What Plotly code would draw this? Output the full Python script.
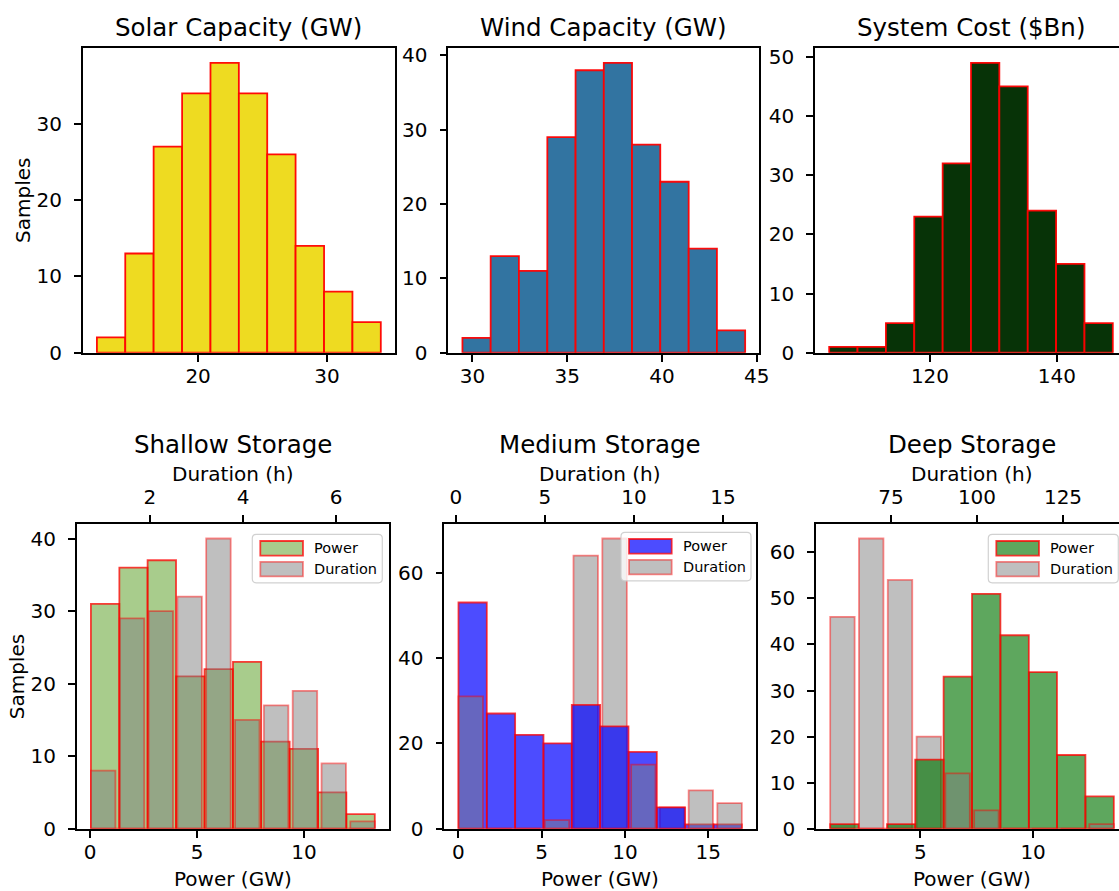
import plotly.graph_objects as go

# ---------------- data ----------------
solar_edges = [12.15, 14.35, 16.55, 18.76, 20.96, 23.16, 25.36, 27.56, 29.77, 31.97, 34.17]
solar_counts = [2, 13, 27, 34, 38, 34, 26, 14, 8, 4]
wind_edges = [29.47, 30.96, 32.45, 33.95, 35.44, 36.93, 38.42, 39.91, 41.41, 42.90, 44.39]
wind_counts = [2, 13, 11, 29, 38, 39, 28, 23, 14, 3]
cost_edges = [104.10, 108.57, 113.05, 117.52, 122.00, 126.47, 130.94, 135.42, 139.89, 144.37, 148.84]
cost_counts = [1, 1, 5, 23, 32, 49, 45, 24, 15, 5]

shallow_power_edges = [0.04, 1.37, 2.69, 4.02, 5.35, 6.68, 8.00, 9.33, 10.66, 11.98, 13.31]
shallow_power_counts = [31, 36, 37, 21, 22, 23, 12, 11, 5, 2]
shallow_duration_edges = [0.683, 1.303, 1.923, 2.542, 3.162, 3.782, 4.402, 5.022, 5.642, 6.261, 6.881]
shallow_duration_counts = [8, 29, 30, 32, 40, 15, 17, 19, 9, 1]

medium_power_edges = [0.01, 1.71, 3.41, 5.11, 6.81, 8.51, 10.21, 11.91, 13.61, 15.31, 17.01]
medium_power_counts = [53, 27, 22, 20, 29, 24, 18, 5, 1, 1]
medium_duration_edges = [0.02, 1.64, 3.25, 4.87, 6.48, 8.10, 9.72, 11.33, 12.95, 14.56, 16.18]
medium_duration_counts = [31, 0, 0, 2, 64, 68, 15, 5, 9, 6]

deep_power_edges = [1.00, 2.26, 3.52, 4.77, 6.03, 7.29, 8.55, 9.81, 11.06, 12.32, 13.58]
deep_power_counts = [1, 0, 1, 15, 33, 51, 42, 34, 16, 7]
deep_duration_edges = [56.70, 65.07, 73.44, 81.81, 90.18, 98.55, 106.92, 115.29, 123.66, 132.03, 140.40]
deep_duration_counts = [46, 63, 54, 20, 12, 4, 0, 0, 0, 1]

top_titles = ["Solar Capacity (GW)", "Wind Capacity (GW)", "System Cost ($Bn)"]
bottom_titles = ["Shallow Storage", "Medium Storage", "Deep Storage"]
legend_labels = ["Power", "Duration"]
y_label = "Samples"
power_label = "Power (GW)"
duration_label = "Duration (h)"

solar_xticks = [20, 30]
solar_yticks = [0, 10, 20, 30]
wind_xticks = [30, 35, 40, 45]
wind_yticks = [0, 10, 20, 30, 40]
cost_xticks = [120, 140]
cost_yticks = [0, 10, 20, 30, 40, 50]
shallow_xticks = [0, 5, 10]
shallow_topticks = [2, 4, 6]
shallow_yticks = [0, 10, 20, 30, 40]
medium_xticks = [0, 5, 10, 15]
medium_topticks = [0, 5, 10, 15]
medium_yticks = [0, 20, 40, 60]
deep_xticks = [5, 10]
deep_topticks = [75, 100, 125]
deep_yticks = [0, 10, 20, 30, 40, 50, 60]

# drawing order (style): which power bars are drawn above the duration bars
shallow_power_on_top = [False, False, False, False, False, False, False, False, False, False]
medium_power_on_top = [False, False, False, False, True, True, False, True, False, False]
deep_power_on_top = [True, True, True, True, False, False, False, False, False, False]

# ---------------- styles / layout ----------------
W, H = 1119, 891
OFFSET = 0.0
FONT = "DejaVu Sans"
RWIDTH = 0.85

top_fill = ["#EEDB21", "#3274A1", "#073307"]
top_edge = "rgba(255,0,0,0.95)"
power_fill = ["rgba(81,153,25,0.5)", "rgba(0,0,255,0.7)", "rgba(0,115,0,0.63)"]
power_edge = "rgba(255,0,0,0.75)"
dur_fill = "rgba(128,128,128,0.5)"
dur_edge = "rgba(255,0,0,0.45)"
EDGE_W = 1.8

# positions in window pixels (as seen in the reference)
TOP_ROW_Y = (48.3, 352.7)
BOT_ROW_Y = (524.0, 828.7)
TOP_COLS = [(82.7, 395.0), (448.3, 759.3), (815.0, 1127.0)]
BOT_COLS = [(76.7, 389.0), (444.3, 756.0), (816.0, 1128.0)]
LEGEND_BOX = [(252.3, 534.3), (621.0, 532.3), (988.3, 534.3)]  # left, top px
LEG_W, LEG_H = 130.0, 48.5


def px(x):
    return (x - OFFSET) / W


def py(y):
    return 1 - (y - OFFSET) / H


def ax_key(kind, n):
    return f"{kind}axis" if n == 1 else f"{kind}axis{n}"


def ax_ref(kind, n):
    return kind if n == 1 else f"{kind}{n}"


def centers(edges):
    return [(edges[i] + edges[i + 1]) / 2 for i in range(len(edges) - 1)]


def widths(edges, frac=1.0):
    return [(edges[i + 1] - edges[i]) * frac for i in range(len(edges) - 1)]


def mpl_range(lo, hi):
    m = 0.05 * (hi - lo)
    return [lo - m, hi + m]


def visible_range(rng, cols):
    l, r = cols
    lim = W + OFFSET
    if r <= lim:
        return rng
    f = (lim - l) / (r - l)
    return [rng[0], rng[0] + f * (rng[1] - rng[0])]


def domain(cols):
    return [px(cols[0]), min(px(cols[1]), 1.0)]


axis_style = dict(
    showline=True, linecolor="black", linewidth=1.6,
    ticks="outside", ticklen=7, tickwidth=1.6, tickcolor="black",
    tickfont=dict(family=FONT, size=20, color="black"),
    showgrid=False, zeroline=False, automargin=False,
)

fig = go.Figure()
layout = {}
annotations = []
shapes = []

# ---------------- top row ----------------
top_sets = [
    (solar_edges, solar_counts, solar_xticks, solar_yticks),
    (wind_edges, wind_counts, wind_xticks, wind_yticks),
    (cost_edges, cost_counts, cost_xticks, cost_yticks),
]
for i, (edges, counts, xt, yt) in enumerate(top_sets):
    n = i + 1
    fig.add_trace(go.Bar(
        x=centers(edges), y=counts, width=widths(edges),
        marker=dict(color=top_fill[i], line=dict(color=top_edge, width=EDGE_W)),
        xaxis=ax_ref("x", n), yaxis=ax_ref("y", n), showlegend=False,
    ))
    xr = visible_range(mpl_range(edges[0], edges[-1]), TOP_COLS[i])
    layout[ax_key("x", n)] = dict(domain=domain(TOP_COLS[i]), anchor=ax_ref("y", n),
                                  range=xr, tickvals=xt, mirror=True, ticklabelstandoff=-3,
                                  **axis_style)
    layout[ax_key("y", n)] = dict(domain=[py(TOP_ROW_Y[1]), py(TOP_ROW_Y[0])],
                                  anchor=ax_ref("x", n), range=[0, 1.05 * max(counts)],
                                  tickvals=yt, mirror=(i < 2), ticklabelstandoff=8, **axis_style)
    cx = (TOP_COLS[i][0] + TOP_COLS[i][1]) / 2
    annotations.append(dict(text=top_titles[i], x=px(cx), y=py(27.4), xref="paper", yref="paper",
                            xanchor="center", yanchor="middle", showarrow=False,
                            font=dict(family=FONT, size=24.5, color="black")))

annotations.append(dict(text=y_label, x=px(22.5), y=py(200.5), xref="paper", yref="paper",
                        xanchor="center", yanchor="middle", textangle=-90, showarrow=False,
                        font=dict(family=FONT, size=20, color="black")))

# ---------------- bottom row ----------------
bot_sets = [
    (shallow_power_edges, shallow_power_counts, shallow_duration_edges, shallow_duration_counts,
     shallow_xticks, shallow_topticks, shallow_yticks, shallow_power_on_top),
    (medium_power_edges, medium_power_counts, medium_duration_edges, medium_duration_counts,
     medium_xticks, medium_topticks, medium_yticks, medium_power_on_top),
    (deep_power_edges, deep_power_counts, deep_duration_edges, deep_duration_counts,
     deep_xticks, deep_topticks, deep_yticks, deep_power_on_top),
]
for i, (pe, pc, de, dc, xt, tt, yt, on_top) in enumerate(bot_sets):
    nb, nd, nps, nds = 4 + i, 7 + i, 10 + i, 13 + i
    yref = ax_ref("y", nb)
    cols = BOT_COLS[i]
    p_rng = visible_range(mpl_range(pe[0], pe[-1]), cols)
    dw = widths(de)
    d_lo = de[0] + (1 - RWIDTH) / 2 * dw[0]
    d_hi = de[-1] - (1 - RWIDTH) / 2 * dw[-1]
    d_rng = visible_range(mpl_range(d_lo, d_hi), cols)
    ymax = 1.05 * max(max(pc), max(dc))

    power_under = [c if not t else None for c, t in zip(pc, on_top)]
    power_over = [c if t else None for c, t in zip(pc, on_top)]
    dur_mid = [d if t else None for d, t in zip(dc, on_top)]
    dur_over = [d if not t else None for d, t in zip(dc, on_top)]

    layers = [
        (nb, pe, power_under, 1.0, power_fill[i], power_edge),
        (nd, de, dur_mid, RWIDTH, dur_fill, dur_edge),
        (nps, pe, power_over, 1.0, power_fill[i], power_edge),
        (nds, de, dur_over, RWIDTH, dur_fill, dur_edge),
    ]
    for n, edges, vals, frac, fill, edge in layers:
        fig.add_trace(go.Bar(
            x=centers(edges), y=vals, width=widths(edges, frac),
            marker=dict(color=fill, line=dict(color=edge, width=EDGE_W)),
            xaxis=ax_ref("x", n), yaxis=yref, showlegend=False,
        ))

    layout[ax_key("x", nb)] = dict(domain=domain(cols), anchor=yref, range=p_rng,
                                   tickvals=xt, side="bottom", mirror=False, ticklabelstandoff=-3,
                                   **axis_style)
    layout[ax_key("y", nb)] = dict(domain=[py(BOT_ROW_Y[1]), py(BOT_ROW_Y[0])], anchor=ax_ref("x", nb),
                                   range=[0, ymax], tickvals=yt, mirror=(i < 2), ticklabelstandoff=8,
                                   **axis_style)
    layout[ax_key("x", nd)] = dict(overlaying=ax_ref("x", nb), anchor=yref, side="top",
                                   range=d_rng, tickvals=tt, ticklabelstandoff=3, **axis_style)
    layout[ax_key("x", nps)] = dict(overlaying=ax_ref("x", nb), anchor=yref, range=p_rng,
                                    visible=False, automargin=False)
    layout[ax_key("x", nds)] = dict(overlaying=ax_ref("x", nb), anchor=yref, range=d_rng,
                                    visible=False, automargin=False)

    cx = (cols[0] + cols[1]) / 2
    annotations.append(dict(text=bottom_titles[i], x=px(cx), y=py(444.6), xref="paper", yref="paper",
                            xanchor="center", yanchor="middle", showarrow=False,
                            font=dict(family=FONT, size=24.5, color="black")))
    annotations.append(dict(text=duration_label, x=px(cx), y=py(474.0), xref="paper", yref="paper",
                            xanchor="center", yanchor="middle", showarrow=False,
                            font=dict(family=FONT, size=20, color="black")))
    annotations.append(dict(text=power_label, x=px(cx), y=py(879.0), xref="paper", yref="paper",
                            xanchor="center", yanchor="middle", showarrow=False,
                            font=dict(family=FONT, size=20, color="black")))

    # legend (upper right, matplotlib style)
    lx, ly = LEGEND_BOX[i]
    r = 4.0
    x0, x1 = lx, lx + LEG_W
    y0, y1 = ly, ly + LEG_H
    path = (f"M{px(x0 + r)},{py(y0)} L{px(x1 - r)},{py(y0)} Q{px(x1)},{py(y0)} {px(x1)},{py(y0 + r)} "
            f"L{px(x1)},{py(y1 - r)} Q{px(x1)},{py(y1)} {px(x1 - r)},{py(y1)} "
            f"L{px(x0 + r)},{py(y1)} Q{px(x0)},{py(y1)} {px(x0)},{py(y1 - r)} "
            f"L{px(x0)},{py(y0 + r)} Q{px(x0)},{py(y0)} {px(x0 + r)},{py(y0)} Z")
    shapes.append(dict(type="path", path=path, xref="paper", yref="paper",
                       fillcolor="rgba(255,255,255,0.8)", line=dict(color="rgba(204,204,204,0.9)", width=1.2)))
    for k, (lab, fc, ec) in enumerate(zip(legend_labels, [power_fill[i], dur_fill], [power_edge, dur_edge])):
        cy = ly + 14.0 + 20.8 * k
        shapes.append(dict(type="rect", xref="paper", yref="paper",
                           x0=px(lx + 8.0), x1=px(lx + 50.7), y0=py(cy - 7.3), y1=py(cy + 7.3),
                           fillcolor=fc, line=dict(color=ec, width=EDGE_W)))
        annotations.append(dict(text=lab, x=px(lx + 60.0), y=py(cy), xref="paper", yref="paper",
                                xanchor="left", yanchor="middle", showarrow=False,
                                font=dict(family=FONT, size=14.5, color="black")))

annotations.append(dict(text=y_label, x=px(16.8), y=py(676.5), xref="paper", yref="paper",
                        xanchor="center", yanchor="middle", textangle=-90, showarrow=False,
                        font=dict(family=FONT, size=20, color="black")))

fig.update_layout(
    width=W, height=H, margin=dict(l=0, r=0, t=0, b=0, autoexpand=False),
    paper_bgcolor="white", plot_bgcolor="white",
    barmode="overlay", showlegend=False, hovermode=False,
    font=dict(family=FONT, size=20, color="black"),
    annotations=annotations, shapes=shapes,
    **layout,
)

fig.write_html(
    "out.html",
    config={"displayModeBar": False},
    post_script="document.body.style.margin='0';document.body.style.overflow='hidden';",
)
